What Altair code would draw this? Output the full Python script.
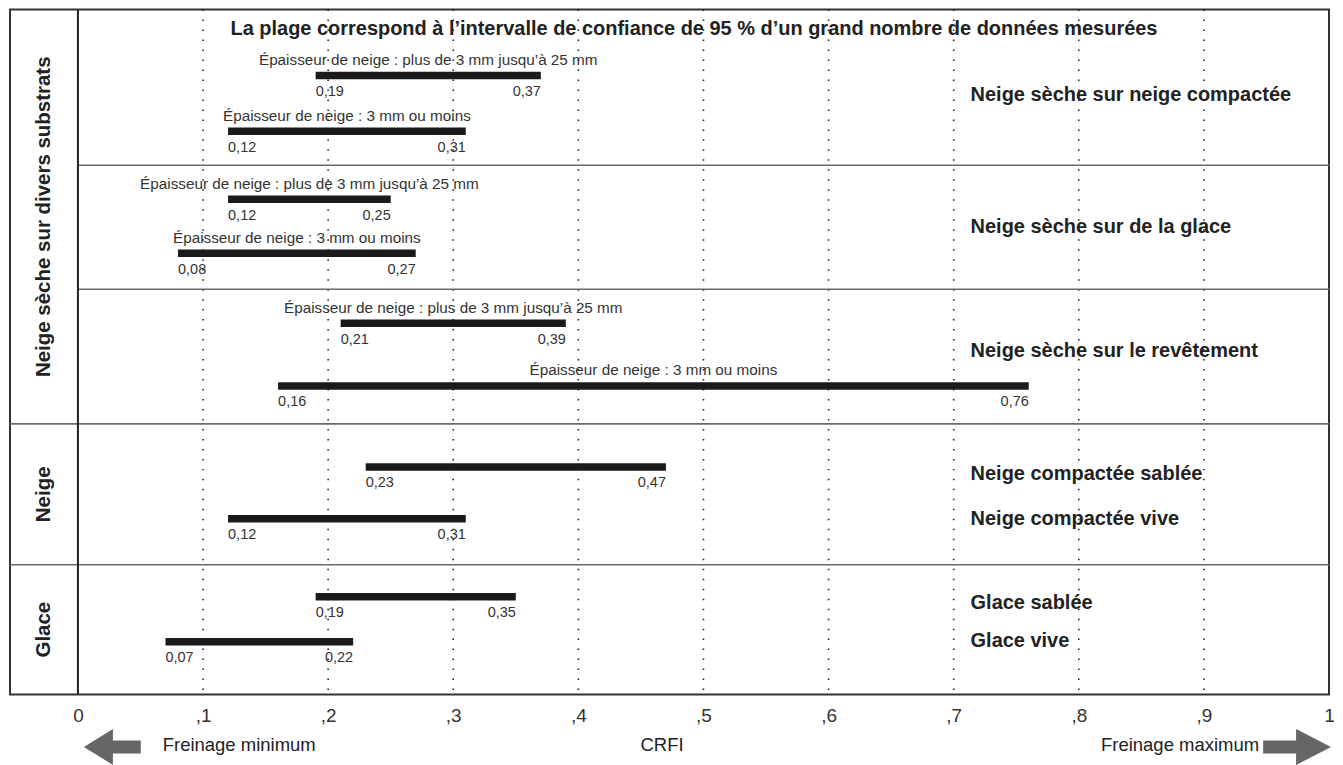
import altair as alt
import pandas as pd

# ---------------- data ----------------
title_text = "La plage correspond à l’intervalle de confiance de 95 % d’un grand nombre de données mesurées"
groups = ["Neige sèche sur divers substrats", "Neige", "Glace"]
conditions = [
    "Neige sèche sur neige compactée",
    "Neige sèche sur de la glace",
    "Neige sèche sur le revêtement",
    "Neige compactée sablée",
    "Neige compactée vive",
    "Glace sablée",
    "Glace vive",
]
bar_condition = [0, 0, 1, 1, 2, 2, 3, 4, 5, 6]
bar_depth = ["plus de 3 mm jusqu’à 25 mm", "3 mm ou moins",
             "plus de 3 mm jusqu’à 25 mm", "3 mm ou moins",
             "plus de 3 mm jusqu’à 25 mm", "3 mm ou moins",
             "", "", "", ""]
crfi_low = [0.19, 0.12, 0.12, 0.08, 0.21, 0.16, 0.23, 0.12, 0.19, 0.07]
crfi_high = [0.37, 0.31, 0.25, 0.27, 0.39, 0.76, 0.47, 0.31, 0.35, 0.22]
x_ticks = [0, 0.1, 0.2, 0.3, 0.4, 0.5, 0.6, 0.7, 0.8, 0.9, 1]
axis_title = "CRFI"
hint_min = "Freinage minimum"
hint_max = "Freinage maximum"

# ---------------- layout (row units, top = 0) ----------------
ROWS = 41
X_MIN = -0.0543
bar_row = [3.94, 7.29, 11.36, 14.58, 18.77, 22.53, 27.38, 30.48, 35.14, 37.84]
condition_row = [5.14, 13.03, 20.44, 27.79, 30.48, 35.5, 37.77]
inner_dividers = [9.32, 16.74]
full_dividers = [24.8, 33.23]
group_span = [(0, 24.8), (24.8, 33.23), (33.23, ROWS)]
COND_X = 0.7135
GROUP_X = -0.0271
TITLE_POS = (0.4924, 1.14)
HINT_ROW = 44.05
ARROW_ROW = 44.14

FONT = "'Liberation Sans', Arial, sans-serif"

xs = alt.Scale(domain=[X_MIN, 1], nice=False, zero=False)
ys = alt.Scale(domain=[0, ROWS], reverse=True, nice=False, zero=False)

x_axis = alt.Axis(
    values=x_ticks, title=None, domain=False, ticks=False, grid=False,
    labelExpr="datum.value == 0 ? '0' : (datum.value == 1 ? '1' : ',' + round(datum.value * 10))",
    labelFont=FONT, labelFontSize=19, labelColor="#333", labelPadding=12,
    labelFlush=False, labelOverlap=False,
)


def X(f):
    return alt.X(f, type="quantitative", scale=xs, axis=x_axis)


def Y(f):
    return alt.Y(f, type="quantitative", scale=ys, axis=None)


def fmt(v):
    return f"{v:.2f}".replace(".", ",")


# data frames
bars = pd.DataFrame({
    "lo": crfi_low, "hi": crfi_high, "row": bar_row,
    "lo_txt": [fmt(v) for v in crfi_low], "hi_txt": [fmt(v) for v in crfi_high],
    "lab_row": [r + 0.98 for r in bar_row],
    "sub_row": [r - 0.93 for r in bar_row],
    "mid": [(a + b) / 2 for a, b in zip(crfi_low, crfi_high)],
    "sub": [("Épaisseur de neige : " + d) if d else "" for d in bar_depth],
})
subs = bars[bars["sub"] != ""]

grid = pd.DataFrame({"x": x_ticks[1:-1], "y": 0, "y2": ROWS})
divs = pd.DataFrame({
    "y": inner_dividers + full_dividers,
    "x": [0, 0, X_MIN, X_MIN],
    "x2": [1, 1, 1, 1],
})
inner = pd.DataFrame({"x": [0], "y": [0], "y2": [ROWS]})
conds = pd.DataFrame({"t": conditions, "row": condition_row, "x": COND_X})
grps = pd.DataFrame({"t": groups, "row": [(a + b) / 2 for a, b in group_span], "x": GROUP_X})
title_df = pd.DataFrame({"t": [title_text], "x": [TITLE_POS[0]], "row": [TITLE_POS[1]]})
hints = pd.DataFrame({
    "t": [hint_min, axis_title, hint_max],
    "x": [0.0678, 0.4669, 0.9441],
    "row": HINT_ROW,
    "align": ["left", "center", "right"],
})
arrow_l = pd.DataFrame({"x": [0.0275], "row": [ARROW_ROW]})
arrow_r = pd.DataFrame({"x": [0.9745], "row": [ARROW_ROW]})

grid_l = alt.Chart(grid).mark_rule(color="#222", strokeWidth=1.6, strokeDash=[1.5, 8.5]).encode(
    x=X("x"), y=Y("y"), y2="y2")
div_l = alt.Chart(divs).mark_rule(color="#6a6a6a", strokeWidth=1.6).encode(
    x=X("x"), x2="x2", y=Y("y"))
inner_l = alt.Chart(inner).mark_rule(color="#222", strokeWidth=2).encode(
    x=X("x"), y=Y("y"), y2="y2")

bar_l = alt.Chart(bars).mark_rule(color="#1b1b1b", strokeWidth=7.5, strokeCap="butt").encode(
    x=X("lo"), x2="hi", y=Y("row"))
lo_l = alt.Chart(bars).mark_text(align="left", baseline="middle", font=FONT, fontSize=14.5, color="#333").encode(
    x=X("lo"), y=Y("lab_row"), text="lo_txt:N")
hi_l = alt.Chart(bars).mark_text(align="right", baseline="middle", font=FONT, fontSize=14.5, color="#333").encode(
    x=X("hi"), y=Y("lab_row"), text="hi_txt:N")
sub_l = alt.Chart(subs).mark_text(align="center", baseline="middle", font=FONT, fontSize=15.3, color="#333").encode(
    x=X("mid"), y=Y("sub_row"), text="sub:N")

cond_l = alt.Chart(conds).mark_text(align="left", baseline="middle", font=FONT, fontSize=20,
                                     fontWeight="bold", color="#222").encode(
    x=X("x"), y=Y("row"), text="t:N")
grp_l = alt.Chart(grps).mark_text(align="center", baseline="middle", font=FONT, fontSize=20.5,
                                   fontWeight="bold", color="#222", angle=270).encode(
    x=X("x"), y=Y("row"), text="t:N")
title_l = alt.Chart(title_df).mark_text(align="center", baseline="middle", font=FONT, fontSize=20,
                                         fontWeight="bold", color="#222").encode(
    x=X("x"), y=Y("row"), text="t:N")

hint_layers = []
for al in ["left", "center", "right"]:
    hint_layers.append(
        alt.Chart(hints[hints["align"] == al]).mark_text(
            align=al, baseline="middle", font=FONT, fontSize=18.5, color="#222").encode(
            x=X("x"), y=Y("row"), text="t:N"))

arrow_left = alt.Chart(arrow_l).mark_point(
    shape="M -1 0 L 0.02 -0.63 L 0.02 -0.23 L 1 -0.23 L 1 0.23 L 0.02 0.23 L 0.02 0.63 Z",
    size=3249, filled=True, opacity=1, color="#666", strokeWidth=0).encode(x=X("x"), y=Y("row"))
arrow_right = alt.Chart(arrow_r).mark_point(
    shape="M 1 0 L -0.03 -0.53 L -0.03 -0.19 L -1 -0.19 L -1 0.19 L -0.03 0.19 L -0.03 0.53 Z",
    size=4624, filled=True, opacity=1, color="#666", strokeWidth=0).encode(x=X("x"), y=Y("row"))

chart = alt.layer(
    grid_l, div_l, inner_l, bar_l, lo_l, hi_l, sub_l, cond_l, grp_l, title_l,
    *hint_layers, arrow_left, arrow_right,
).properties(
    width=1321, height=686,
    padding={"left": 1, "top": 0, "right": 0, "bottom": 0},
    background="white",
).configure_view(stroke="#333", strokeWidth=2)

chart.save("out.html", embed_options={"renderer": "svg", "actions": False})
